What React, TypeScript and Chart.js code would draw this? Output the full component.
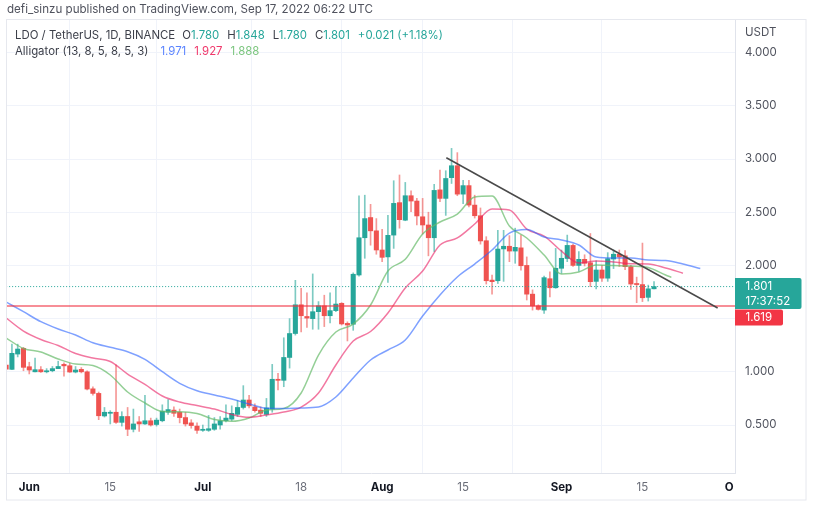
import { useEffect, useRef } from "react"
import { Chart, registerables } from "chart.js"

Chart.register(...registerables)

// x axis is counted in days since 1 June 2022
const firstDay = -4
const opens = [
  1.064, 1.023, 1.167, 1.22, 1.048, 1.0, 1.02, 1.0, 1.01, 1.03, 1.07, 1.057, 0.998, 1.023, 1.0, 0.84, 0.797, 0.585, 0.61,
  0.62, 0.525, 0.58, 0.46, 0.53, 0.51, 0.54, 0.505, 0.54, 0.62, 0.64, 0.62, 0.57, 0.52, 0.49, 0.45, 0.45, 0.46, 0.5, 0.54,
  0.555, 0.6, 0.665, 0.735, 0.67, 0.64, 0.6, 0.65, 0.93, 0.92, 1.135, 1.36, 1.63, 1.52, 1.5, 1.565, 1.62, 1.527, 1.575,
  1.644, 1.455, 1.447, 1.91, 2.26, 2.45, 2.325, 2.145, 2.08, 2.285, 2.59, 2.425, 2.655, 2.605, 2.457, 2.38, 2.26, 2.71,
  2.63, 2.825, 2.937, 2.67, 2.75, 2.567, 2.467, 2.232, 1.862, 1.856, 2.155, 2.18, 2.135, 2.165, 2.0, 1.73, 1.62, 1.58,
  1.875, 1.79, 1.973, 2.065, 2.188, 2.0, 2.057, 2.025, 1.85, 1.957, 1.88, 2.06, 2.105, 2.09, 1.988, 1.83, 1.82, 1.7, 1.78,
]
const highs = [
  1.1, 1.26, 1.26, 1.23, 1.09, 1.13, 1.05, 1.03, 1.05, 1.1, 1.085, 1.08, 1.05, 1.04, 1.01, 0.86, 0.81, 0.665, 0.635, 1.065,
  0.625, 0.665, 0.65, 0.58, 0.78, 0.565, 0.565, 0.69, 0.74, 0.67, 0.65, 0.62, 0.55, 0.52, 0.5, 0.59, 0.57, 0.58, 0.69,
  0.68, 0.73, 0.87, 0.78, 0.7, 0.67, 0.75, 1.07, 0.985, 1.32, 1.5, 1.86, 1.785, 1.743, 1.92, 1.66, 1.72, 1.743, 1.8, 1.65,
  1.47, 1.93, 2.655, 2.66, 2.574, 2.44, 2.34, 2.47, 2.796, 2.85, 2.78, 2.7, 2.63, 2.63, 2.5, 2.762, 2.897, 2.89, 3.1, 3.06,
  2.8, 2.8, 2.66, 2.54, 2.27, 1.91, 2.33, 2.33, 2.28, 2.35, 2.285, 2.08, 1.77, 1.63, 1.9, 1.94, 2.16, 2.145, 2.285, 2.2,
  2.13, 2.1, 2.3, 2.044, 2.0, 2.12, 2.145, 2.145, 2.14, 2.0, 1.89, 2.21, 1.815, 1.848,
]
const lows = [
  1.0, 1.02, 1.14, 1.01, 0.98, 1.0, 0.995, 0.99, 1.0, 1.03, 0.96, 0.995, 0.99, 0.99, 0.83, 0.78, 0.55, 0.575, 0.51, 0.515,
  0.49, 0.4, 0.435, 0.44, 0.505, 0.49, 0.49, 0.53, 0.6, 0.58, 0.52, 0.49, 0.47, 0.42, 0.44, 0.44, 0.45, 0.46, 0.53, 0.54,
  0.58, 0.65, 0.66, 0.62, 0.58, 0.58, 0.62, 0.83, 0.86, 1.035, 1.345, 1.375, 1.418, 1.4, 1.4, 1.425, 1.46, 1.565, 1.44,
  1.29, 1.39, 1.9, 2.067, 2.19, 2.105, 2.035, 1.84, 2.16, 2.35, 2.42, 2.505, 2.38, 2.295, 2.09, 2.13, 2.6, 2.47, 2.77,
  2.655, 2.58, 2.55, 2.445, 2.2, 1.825, 1.73, 1.83, 1.85, 2.035, 2.02, 1.955, 1.675, 1.58, 1.58, 1.55, 1.705, 1.785, 1.925,
  2.035, 1.99, 1.945, 1.995, 1.8, 1.778, 1.85, 1.85, 1.97, 1.99, 1.96, 1.775, 1.65, 1.66, 1.665, 1.78,
]
const closes = [
  1.026, 1.174, 1.214, 1.042, 1.017, 1.02, 1.0, 1.01, 1.03, 1.05, 1.056, 0.998, 1.017, 1.0, 0.838, 0.797, 0.587, 0.62,
  0.62, 0.525, 0.58, 0.46, 0.51, 0.51, 0.54, 0.5, 0.546, 0.63, 0.645, 0.61, 0.57, 0.51, 0.495, 0.45, 0.46, 0.465, 0.51,
  0.54, 0.565, 0.61, 0.665, 0.735, 0.68, 0.635, 0.61, 0.66, 0.93, 0.92, 1.135, 1.36, 1.63, 1.527, 1.505, 1.565, 1.62, 1.527,
  1.575, 1.637, 1.45, 1.44, 1.917, 2.26, 2.44, 2.325, 2.145, 2.076, 2.283, 2.583, 2.43, 2.655, 2.605, 2.465, 2.38, 2.26,
  2.705, 2.63, 2.817, 2.937, 2.67, 2.75, 2.567, 2.467, 2.23, 1.856, 1.847, 2.154, 2.18, 2.135, 2.17, 1.997, 1.73, 1.62,
  1.587, 1.885, 1.79, 1.973, 2.067, 2.188, 2.0, 2.057, 2.02, 1.847, 1.957, 1.88, 2.063, 2.105, 2.08, 1.988, 1.825, 1.82,
  1.696, 1.78, 1.801,
]

// Alligator lines, read every third day
const lineDays = [
  -4, -1, 2, 5, 8, 11, 14, 17, 20, 23, 26, 29, 32, 35, 38, 41, 44, 47, 50, 53, 56, 59, 62, 65, 68, 71, 74, 77, 80, 83, 86,
  89, 92, 95, 98, 101, 104, 107, 110, 113, 116,
]
const jaw = [
  1.656, 1.565, 1.471, 1.402, 1.346, 1.273, 1.23, 1.189, 1.117, 1.001, 0.892, 0.822, 0.782, 0.744, 0.697, 0.657, 0.655,
  0.66, 0.669, 0.763, 0.942, 1.111, 1.205, 1.299, 1.524, 1.722, 1.891, 2.013, 2.145, 2.304, 2.337, 2.267, 2.239, 2.192,
  2.079, 2.069, 2.069, 2.051, 2.046, 2.013, 1.971,
]
const teeth = [
  1.506, 1.383, 1.304, 1.247, 1.172, 1.13, 1.097, 0.979, 0.881, 0.773, 0.716, 0.683, 0.65, 0.599, 0.572, 0.594, 0.622,
  0.669, 0.801, 1.064, 1.289, 1.379, 1.553, 1.788, 1.947, 2.192, 2.258, 2.389, 2.53, 2.521, 2.342, 2.276, 2.135, 2.023,
  2.041, 2.032, 2.016, 2.013, 1.976, 1.927,
]
const lipsDays = [...lineDays.slice(0, 39), 111]
const lips = [
  1.318, 1.219, 1.186, 1.12, 1.073, 1.059, 0.97, 0.81, 0.707, 0.627, 0.625, 0.608, 0.552, 0.535, 0.566, 0.641, 0.655,
  0.801, 1.158, 1.374, 1.449, 1.628, 1.947, 2.057, 2.295, 2.408, 2.483, 2.643, 2.652, 2.37, 2.258, 2.098, 1.919, 1.938,
  2.004, 1.999, 1.994, 1.98, 1.91, 1.888,
]

const trendDays = [72.1, 119]
const trendValues = [3.012, 1.6]
const supportLevel = 1.619
const lastClose = 1.801

const priceTicks = [0.5, 1, 1.5, 2, 2.5, 3, 3.5, 4]
const timeTicks = [0, 14, 30, 47, 61, 75, 92, 106, 121]
const timeLabels = ["Jun", "15", "Jul", "18", "Aug", "15", "Sep", "15", "O"]
const monthTicks = [0, 30, 61, 92, 121]

const UP = "#26a69a"
const DOWN = "#ef5350"
const candleDays = opens.map((_, i) => firstDay + i)
const isUp = (i: number) => closes[i] >= opens[i]

const frame = {
  id: "frame",
  afterDraw(chart: any) {
    const { ctx, scales } = chart
    const y = scales.y
    ctx.save()
    ctx.strokeStyle = "#e6e8ee"
    ctx.lineWidth = 1
    ctx.strokeRect(6.5, 19.5, 799.5, 480.5)

    const closeY = y.getPixelForValue(lastClose)
    ctx.fillStyle = UP
    ctx.beginPath()
    ctx.roundRect(735, closeY - 8.5, 66.5, 31, [0, 2, 2, 0])
    ctx.fill()
    ctx.fillStyle = "#f23645"
    ctx.beginPath()
    ctx.roundRect(735, y.getPixelForValue(supportLevel) + 3.5, 48, 16, [0, 2, 2, 0])
    ctx.fill()

    ctx.font = "11.5px Inter"
    ctx.textBaseline = "middle"
    ctx.fillStyle = "#ffffff"
    ctx.fillText(lastClose.toFixed(3), 745.5, closeY - 0.5)
    ctx.fillText("17:37:52", 745.5, closeY + 14.5)
    ctx.fillText(supportLevel.toFixed(3), 745.5, y.getPixelForValue(supportLevel) + 11.5)
    ctx.restore()
  },
}

export default function App() {
  const chartRef = useRef<HTMLCanvasElement>(null)

  useEffect(() => {
    if (!chartRef.current) return

    const chart = new Chart(chartRef.current, {
      type: "bar",
      data: {
        datasets: [
          {
            type: "line",
            data: trendDays.map((x, i) => ({ x, y: trendValues[i] })),
            borderColor: "#4a4a4a",
            borderWidth: 1.5,
            pointRadius: 0,
            order: 0,
          },
          {
            type: "line",
            data: [
              { x: -4, y: supportLevel },
              { x: 122, y: supportLevel },
            ],
            borderColor: "rgba(242, 54, 69, 0.75)",
            borderWidth: 1.5,
            pointRadius: 0,
            order: 1,
          },
          {
            type: "line",
            data: [
              { x: -4, y: lastClose },
              { x: 122, y: lastClose },
            ],
            borderColor: UP,
            borderWidth: 1,
            borderDash: [1, 2],
            pointRadius: 0,
            order: 1,
          },
          {
            type: "line",
            data: lineDays.map((x, i) => ({ x, y: jaw[i] })),
            borderColor: "rgba(41, 98, 255, 0.6)",
            borderWidth: 1.5,
            pointRadius: 0,
            cubicInterpolationMode: "monotone",
            order: 2,
          },
          {
            type: "line",
            data: lineDays.slice(0, teeth.length).map((x, i) => ({ x, y: teeth[i] })),
            borderColor: "rgba(233, 30, 99, 0.6)",
            borderWidth: 1.5,
            pointRadius: 0,
            cubicInterpolationMode: "monotone",
            order: 2,
          },
          {
            type: "line",
            data: lipsDays.map((x, i) => ({ x, y: lips[i] })),
            borderColor: "rgba(102, 187, 106, 0.7)",
            borderWidth: 1.5,
            pointRadius: 0,
            cubicInterpolationMode: "monotone",
            order: 2,
          },
          {
            data: candleDays.map((x, i) => ({ x, y: [opens[i], closes[i]] })),
            backgroundColor: candleDays.map((_, i) => (isUp(i) ? UP : DOWN)),
            barThickness: 4.4,
            grouped: false,
            order: 3,
          },
          {
            data: candleDays.map((x, i) => ({ x, y: [lows[i], highs[i]] })),
            backgroundColor: candleDays.map((_, i) => (isUp(i) ? "rgba(38,166,154,0.6)" : "rgba(239,83,80,0.6)")),
            barThickness: 1,
            grouped: false,
            order: 4,
          },
        ] as any,
      },
      options: {
        animation: false,
        responsive: false,
        layout: { padding: { left: 7, top: 19, right: 16, bottom: 7 } },
        plugins: { legend: { display: false }, tooltip: { enabled: false } },
        scales: {
          x: {
            type: "linear",
            min: -3.85,
            max: 122,
            offset: false,
            afterBuildTicks: (scale: any) => {
              scale.ticks = timeTicks.map((value) => ({ value }))
            },
            afterFit: (scale: any) => {
              scale.height = 27
            },
            border: { display: true, color: "#e0e3eb" },
            grid: {
              drawTicks: false,
              color: (ctx: any) => (ctx.tick?.value === 121 ? "transparent" : "#f0f3fa"),
            },
            ticks: {
              autoSkip: false,
              maxRotation: 0,
              padding: 8,
              callback: (value: any) => timeLabels[timeTicks.indexOf(value)],
              color: (ctx: any) => (monthTicks.includes(ctx.tick?.value) ? "#131722" : "#6a6d78"),
              font: (ctx: any) => ({
                family: "Inter",
                size: 11.5,
                weight: monthTicks.includes(ctx.tick?.value) ? "bold" : "normal",
              }),
            },
          },
          y: {
            type: "linear",
            position: "right",
            min: 0.049,
            max: 4.316,
            afterBuildTicks: (scale: any) => {
              scale.ticks = priceTicks.map((value) => ({ value }))
            },
            afterFit: (scale: any) => {
              scale.width = 71
            },
            border: { display: true, color: "#e0e3eb" },
            grid: { drawTicks: false, color: "#f0f3fa" },
            ticks: {
              padding: 10,
              color: "#50535e",
              font: { family: "Inter", size: 11.5 },
              callback: (value: any) => Number(value).toFixed(3),
            },
          },
        },
      },
      plugins: [frame],
    } as any)

    return () => {
      chart.destroy()
    }
  }, [])

  const teal = { color: UP }
  const gap = { marginLeft: 8 }
  return (
    <div
      style={{
        position: "fixed",
        left: 0,
        top: 0,
        width: 822,
        height: 507,
        background: "#fff",
        fontFamily: "Inter, sans-serif",
        filter: "blur(0.45px)",
      }}
    >
      <canvas ref={chartRef} width={822} height={507} style={{ display: "block" }} />
      <div style={{ position: "absolute", left: 7, top: 2, fontSize: 11.6, color: "#50535e", whiteSpace: "nowrap" }}>
        defi_sinzu published on TradingView.com, Sep 17, 2022 06:22 UTC
      </div>
      <div style={{ position: "absolute", left: 15, top: 28, fontSize: 11.4, color: "#3c3f49", whiteSpace: "nowrap" }}>
        LDO / TetherUS, 1D, BINANCE
        <span style={{ marginLeft: 7 }}>O</span>
        <span style={teal}>1.780</span>
        <span style={gap}>H</span>
        <span style={teal}>1.848</span>
        <span style={gap}>L</span>
        <span style={teal}>1.780</span>
        <span style={gap}>C</span>
        <span style={teal}>1.801</span>
        <span style={{ ...teal, ...gap }}>+0.021 (+1.18%)</span>
      </div>
      <div style={{ position: "absolute", left: 15, top: 44, fontSize: 11.4, color: "#3c3f49", whiteSpace: "nowrap" }}>
        Alligator (13, 8, 5, 8, 5, 3)
        <span style={{ marginLeft: 12, color: "#5b84ff" }}>1.971</span>
        <span style={{ ...gap, color: "#f0386b" }}>1.927</span>
        <span style={{ ...gap, color: "#7cc67f" }}>1.888</span>
      </div>
      <div style={{ position: "absolute", left: 745, top: 25, fontSize: 11.5, color: "#50535e" }}>USDT</div>
    </div>
  )
}
